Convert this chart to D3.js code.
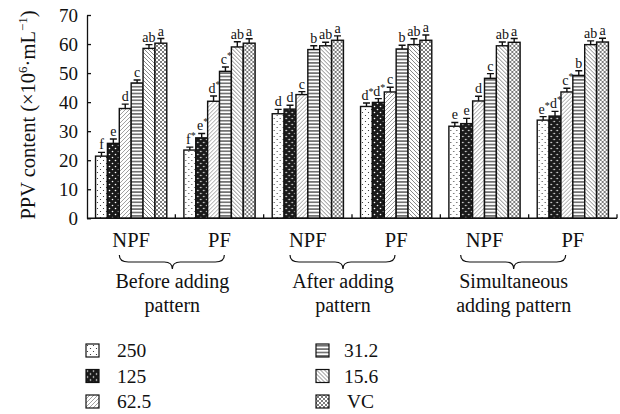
<!DOCTYPE html>
<html>
<head>
<meta charset="utf-8">
<script src="https://cdn.jsdelivr.net/npm/d3@7"></script>
<style>
  html, body { margin: 0; padding: 0; background: #fff; }
  svg { display: block; font-family: "Liberation Serif", "DejaVu Serif", serif; }
</style>
</head>
<body>
<svg id="chart" width="620" height="414"></svg>
<script>
// concentrations (series) and the x groups
const series = ['250', '125', '62.5', '31.2', '15.6', 'VC'];
const subgroups = ['NPF', 'PF', 'NPF', 'PF', 'NPF', 'PF'];
const groups = [['Before adding', 'pattern'], ['After adding', 'pattern'], ['Simultaneous', 'adding pattern']];
const yTicks = [0, 10, 20, 30, 40, 50, 60, 70];

// PPV content per subgroup, one value per series
const beforeNPF = [21.4, 25.8, 37.8, 46.6, 58.5, 60.3];
const beforePF  = [23.5, 27.7, 40.3, 50.6, 59.0, 60.3];
const afterNPF  = [36.0, 37.6, 42.6, 58.1, 59.4, 61.3];
const afterPF   = [38.5, 39.9, 43.5, 58.3, 59.8, 61.3];
const simNPF    = [31.7, 32.6, 40.4, 48.2, 59.4, 60.6];
const simPF     = [33.8, 35.2, 43.5, 49.2, 59.8, 60.7];
const values = [beforeNPF, beforePF, afterNPF, afterPF, simNPF, simPF];

// standard errors
const errBeforeNPF = [1.3, 1.5, 1.5, 1.0, 1.3, 1.6];
const errBeforePF  = [1.0, 1.5, 1.8, 1.5, 1.8, 1.5];
const errAfterNPF  = [1.5, 1.3, 1.0, 1.3, 1.2, 1.5];
const errAfterPF   = [1.2, 1.3, 1.6, 1.3, 2.0, 1.8];
const errSimNPF    = [1.3, 1.8, 1.6, 1.6, 1.3, 1.3];
const errSimPF     = [1.2, 1.6, 1.3, 1.6, 1.3, 1.3];
const errors = [errBeforeNPF, errBeforePF, errAfterNPF, errAfterPF, errSimNPF, errSimPF];

// significance letters ("*" is drawn as a superscript)
const letters = [
  ['f', 'e', 'd', 'c', 'ab', 'a'],
  ['f*', 'e*', 'd*', 'c*', 'ab', 'a'],
  ['d', 'd', 'c', 'b', 'ab', 'a'],
  ['d*', 'd*', 'c', 'b', 'ab', 'a'],
  ['e', 'e', 'd', 'c', 'ab', 'a'],
  ['e*', 'd*', 'c*', 'b', 'ab', 'a']
];

const svg = d3.select('#chart');
const plotL = 87, plotR = 617, plotT = 15, plotB = 218.3;

const x0 = d3.scaleBand().domain(d3.range(subgroups.length)).range([plotL, plotR]).padding(0);
const x1 = d3.scaleBand().domain(series).range([0, x0.bandwidth()]).paddingInner(0).paddingOuter(0.72);
const y = d3.scaleLinear().domain([0, 70]).range([plotB, plotT]);

// fill patterns
const defs = svg.append('defs');
function pat(id, w, h, bg) {
  const p = defs.append('pattern').attr('id', id).attr('patternUnits', 'userSpaceOnUse')
    .attr('width', w).attr('height', h);
  p.append('rect').attr('width', w).attr('height', h).attr('fill', bg);
  return p;
}
let p = pat('p0', 6, 6, '#fff');
p.append('circle').attr('cx', 1.5).attr('cy', 1.5).attr('r', 0.6).attr('fill', '#222');
p.append('circle').attr('cx', 4.5).attr('cy', 4.5).attr('r', 0.6).attr('fill', '#222');
p = pat('p1', 6, 6, '#1a1a1a');
p.append('circle').attr('cx', 1.5).attr('cy', 1.5).attr('r', 0.8).attr('fill', '#fff');
p.append('circle').attr('cx', 4.5).attr('cy', 4.5).attr('r', 0.8).attr('fill', '#fff');
p = pat('p2', 4, 4, '#fff');
p.append('path').attr('d', 'M-1,1 L1,-1 M0,4 L4,0 M3,5 L5,3').attr('stroke', '#777').attr('stroke-width', 0.7);
p = pat('p3', 4, 3.4, '#fff');
p.append('line').attr('x1', 0).attr('x2', 4).attr('y1', 1.7).attr('y2', 1.7).attr('stroke', '#111').attr('stroke-width', 1);
p = pat('p4', 4, 4, '#fff');
p.append('path').attr('d', 'M-1,3 L1,5 M0,0 L4,4 M3,-1 L5,1').attr('stroke', '#555').attr('stroke-width', 0.7);
p = pat('p5', 4, 4, '#fff');
p.append('path').attr('d', 'M0,0 L2,2 L4,0 M0,4 L2,2 L4,4').attr('stroke', '#444').attr('stroke-width', 0.7).attr('fill', 'none');
const fillOf = s => `url(#p${series.indexOf(s)})`;

// bars
const g = svg.append('g');
values.forEach((vals, gi) => {
  const grp = g.append('g').attr('transform', `translate(${x0(gi)},0)`);
  const rows = series.map((s, i) => ({ s, v: vals[i], e: errors[gi][i], lab: letters[gi][i] }));
  grp.selectAll('rect').data(rows).join('rect')
    .attr('x', d => x1(d.s)).attr('width', x1.bandwidth())
    .attr('y', d => y(d.v)).attr('height', d => y(0) - y(d.v))
    .attr('fill', d => fillOf(d.s)).attr('stroke', '#111').attr('stroke-width', 1.4);
  grp.selectAll('path.err').data(rows).join('path').attr('class', 'err')
    .attr('d', d => {
      const cx = x1(d.s) + x1.bandwidth() / 2;
      return `M${cx},${y(d.v)}V${y(d.v + d.e)}M${cx - 3.5},${y(d.v + d.e)}H${cx + 3.5}`;
    })
    .attr('stroke', '#111').attr('stroke-width', 1.4).attr('fill', 'none');
  const t = grp.selectAll('text').data(rows).join('text')
    .attr('x', d => x1(d.s) + x1.bandwidth() / 2 + (d.lab.endsWith('*') ? 1 : 0))
    .attr('y', d => y(d.v + d.e) - 3)
    .attr('text-anchor', 'middle').attr('font-size', 14).attr('fill', '#111');
  t.append('tspan').text(d => d.lab.replace('*', ''));
  t.filter(d => d.lab.endsWith('*')).append('tspan').attr('font-size', 10).attr('dy', -5).text('*');
});

// y axis
const yAxis = svg.append('g').attr('transform', `translate(${plotL},0)`)
  .call(d3.axisLeft(y).tickValues(yTicks).tickSize(-4).tickPadding(9).tickSizeOuter(0));
yAxis.selectAll('text').attr('font-size', 19).attr('fill', '#111').attr('font-family', 'Liberation Serif');
yAxis.selectAll('line, path').attr('stroke', '#111').attr('stroke-width', 1.3);

// x axis line with boundary ticks
const bounds = d3.range(subgroups.length + 1).map(i => i < subgroups.length ? x0(i) : x0(i - 1) + x0.bandwidth());
svg.append('line').attr('x1', plotL).attr('x2', plotR).attr('y1', y(0)).attr('y2', y(0))
  .attr('stroke', '#111').attr('stroke-width', 1.6);
svg.selectAll('line.xt').data(bounds.slice(1)).join('line').attr('class', 'xt')
  .attr('x1', d => d).attr('x2', d => d).attr('y1', y(0)).attr('y2', y(0) - 4)
  .attr('stroke', '#111').attr('stroke-width', 1.3);

svg.selectAll('text.sub').data(subgroups).join('text').attr('class', 'sub')
  .attr('x', (d, i) => x0(i) + x0.bandwidth() / 2).attr('y', 247)
  .attr('text-anchor', 'middle').attr('font-size', 20.5).attr('fill', '#111').text(d => d);

// braces and group labels
groups.forEach((lines, i) => {
  const cx = x0(2 * i + 1) - 3 - 6 * i;
  const a = cx - 53, b = cx + 52, yt = 255, ym = 262, yb = 269;
  svg.append('path')
    .attr('d', `M${a},${yt}Q${a},${ym} ${a + 9},${ym}L${cx - 8},${ym}Q${cx},${ym} ${cx},${yb}Q${cx},${ym} ${cx + 8},${ym}L${b - 9},${ym}Q${b},${ym} ${b},${yt}`)
    .attr('fill', 'none').attr('stroke', '#111').attr('stroke-width', 1.2);
  lines.forEach((ln, k) => {
    svg.append('text').attr('x', cx).attr('y', 288 + k * 24).attr('text-anchor', 'middle')
      .attr('font-size', 20).attr('fill', '#111').text(ln);
  });
});

// y title
const yt = svg.append('text').attr('transform', 'translate(35,115) rotate(-90)')
  .attr('text-anchor', 'middle').attr('font-size', 20.5).attr('fill', '#111');
yt.append('tspan').text('PPV content (×10');
yt.append('tspan').attr('font-size', 13).attr('dy', -8).text('6');
yt.append('tspan').attr('dy', 8).text('·mL');
yt.append('tspan').attr('font-size', 13).attr('dy', -8).text('−1');
yt.append('tspan').attr('dy', 8).text(')');

// legend
const leg = svg.selectAll('g.leg').data(series).join('g').attr('class', 'leg')
  .attr('transform', (d, i) => `translate(${i < 3 ? 86 : 316},${344 + (i % 3) * 25.5})`);
leg.append('rect').attr('width', 13).attr('height', 13).attr('fill', d => fillOf(d))
  .attr('stroke', '#111').attr('stroke-width', 1.2);
leg.append('text').attr('x', (d, i) => i < 3 ? 31 : (i < 5 ? 28 : 31)).attr('y', 13).attr('font-size', 19.5).attr('fill', '#111').text(d => d);
</script>
</body>
</html>
